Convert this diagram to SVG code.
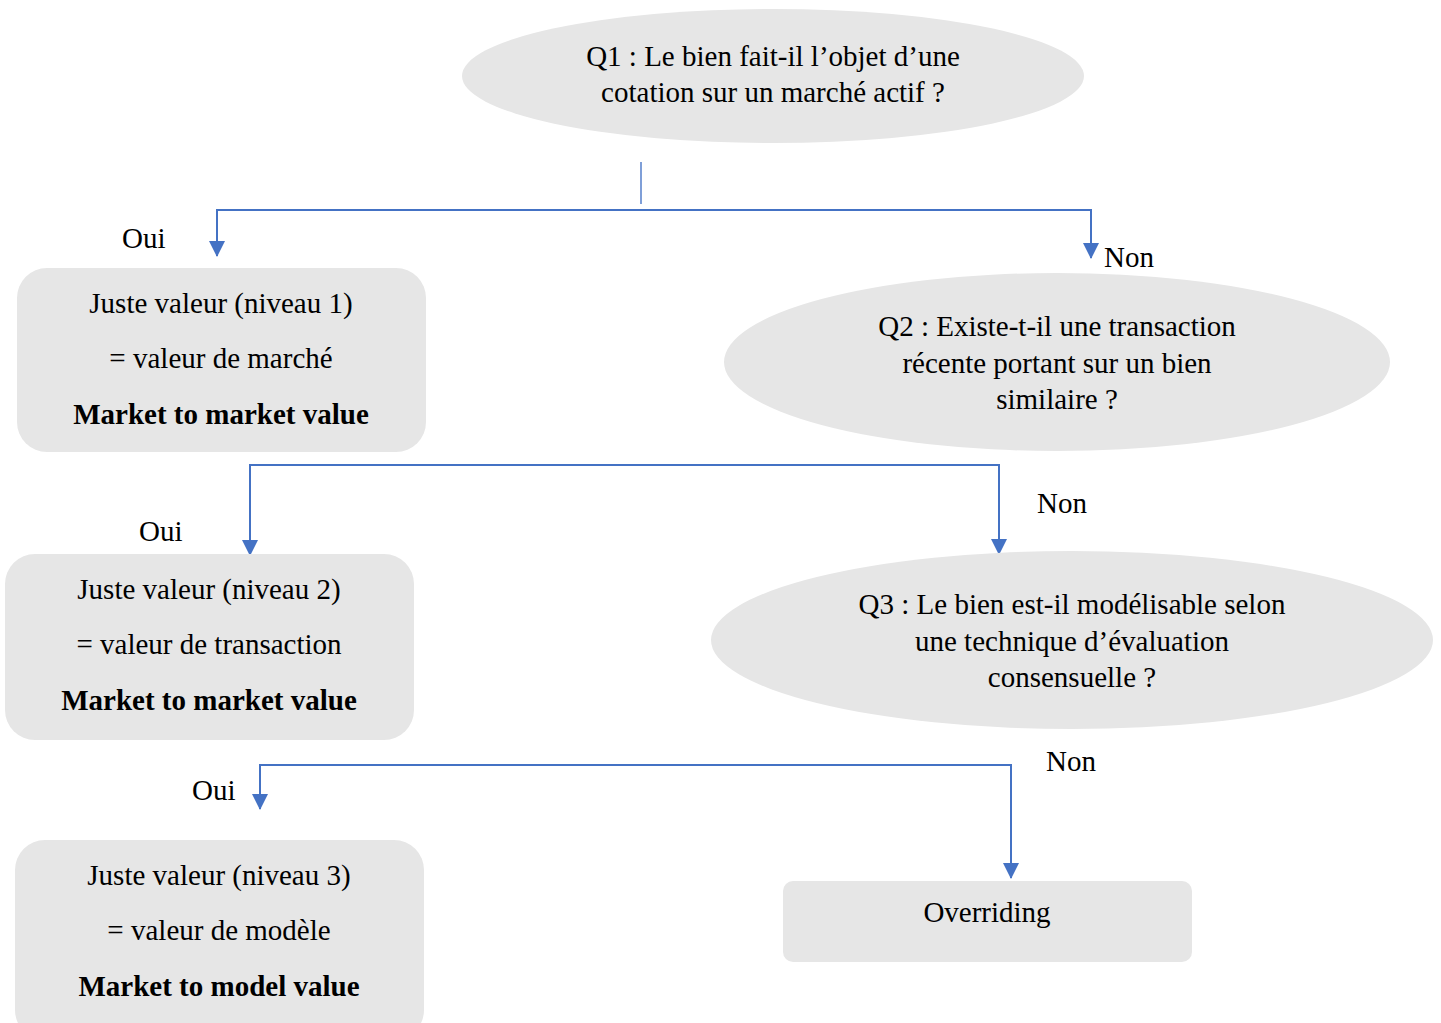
<svg xmlns="http://www.w3.org/2000/svg" width="1441" height="1023" viewBox="0 0 1441 1023">
<style>
.n{fill:#E6E6E6;stroke:none}
.t{font-family:"Liberation Serif","Times New Roman",serif;font-size:29px;fill:#000;text-anchor:middle}
.b{font-weight:bold}
.l{font-family:"Liberation Serif","Times New Roman",serif;font-size:29px;fill:#000}
.c{fill:none;stroke:#4472C4;stroke-width:2}
</style>
<defs>
<marker id="a" markerUnits="userSpaceOnUse" markerWidth="16" markerHeight="16" refX="15" refY="8" orient="auto" viewBox="0 0 16 16">
<path d="M0,0 L16,8 L0,16 Z" fill="#4472C4"/>
</marker>
</defs>
<rect width="1441" height="1023" fill="#fff"/>
<g id="connectors">
<line x1="641" y1="162" x2="641" y2="204" stroke="#7F9FD8" stroke-width="2"/>
<path class="c" d="M641,210 H217 V256" marker-end="url(#a)"/>
<path class="c" d="M641,210 H1091 V258" marker-end="url(#a)"/>
<path class="c" d="M620,465 H250 V555" marker-end="url(#a)"/>
<path class="c" d="M620,465 H999 V554" marker-end="url(#a)"/>
<path class="c" d="M630,765 H260 V809" marker-end="url(#a)"/>
<path class="c" d="M630,765 H1011 V878" marker-end="url(#a)"/>
</g>
<g id="q1">
<ellipse class="n" cx="773" cy="76" rx="311" ry="67"/>
<text class="t" x="773" y="66">Q1 : Le bien fait-il l’objet d’une</text>
<text class="t" x="773" y="102">cotation sur un marché actif ?</text>
</g>
<g id="n1">
<rect class="n" x="17" y="268" width="409" height="184" rx="30"/>
<text class="t" x="221" y="313">Juste valeur (niveau 1)</text>
<text class="t" x="221" y="368">= valeur de marché</text>
<text class="t b" x="221" y="424">Market to market value</text>
</g>
<g id="q2">
<ellipse class="n" cx="1057" cy="362" rx="333" ry="89"/>
<text class="t" x="1057" y="336">Q2 : Existe-t-il une transaction</text>
<text class="t" x="1057" y="373">récente portant sur un bien</text>
<text class="t" x="1057" y="409">similaire ?</text>
</g>
<g id="n2">
<rect class="n" x="5" y="554" width="409" height="186" rx="30"/>
<text class="t" x="209" y="599">Juste valeur (niveau 2)</text>
<text class="t" x="209" y="654">= valeur de transaction</text>
<text class="t b" x="209" y="710">Market to market value</text>
</g>
<g id="q3">
<ellipse class="n" cx="1072" cy="640" rx="361" ry="89"/>
<text class="t" x="1072" y="614">Q3 : Le bien est-il modélisable selon</text>
<text class="t" x="1072" y="651">une technique d’évaluation</text>
<text class="t" x="1072" y="687">consensuelle ?</text>
</g>
<g id="n3">
<rect class="n" x="15" y="840" width="409" height="200" rx="30"/>
<text class="t" x="219" y="885">Juste valeur (niveau 3)</text>
<text class="t" x="219" y="940">= valeur de modèle</text>
<text class="t b" x="219" y="996">Market to model value</text>
</g>
<g id="n4">
<rect class="n" x="783" y="881" width="409" height="81" rx="10"/>
<text class="t" x="987" y="922">Overriding</text>
</g>
<g id="labels">
<text class="l" x="122" y="248">Oui</text>
<text class="l" x="1104" y="267">Non</text>
<text class="l" x="139" y="541">Oui</text>
<text class="l" x="1037" y="513">Non</text>
<text class="l" x="192" y="800">Oui</text>
<text class="l" x="1046" y="771">Non</text>
</g>
</svg>
